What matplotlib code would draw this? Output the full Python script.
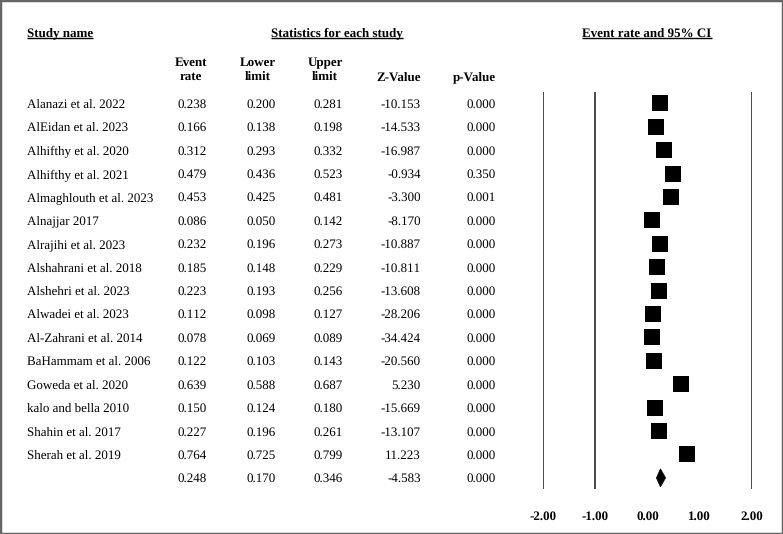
import matplotlib
matplotlib.use("Agg")
import matplotlib.pyplot as plt
from matplotlib.patches import Rectangle, Polygon

plt.rcParams["text.hinting"] = "no_hinting"
plt.rcParams["text.hinting_factor"] = 1

studies = ["Alanazi et al. 2022", "AlEidan et al. 2023", "Alhifthy et al. 2020",
           "Alhifthy et al. 2021", "Almaghlouth et al. 2023", "Alnajjar 2017",
           "Alrajihi et al. 2023", "Alshahrani et al. 2018", "Alshehri et al. 2023",
           "Alwadei et al. 2023", "Al-Zahrani et al. 2014", "BaHammam et al. 2006",
           "Goweda et al. 2020", "kalo and bella 2010", "Shahin et al. 2017",
           "Sherah et al. 2019"]
event_rate = [0.238, 0.166, 0.312, 0.479, 0.453, 0.086, 0.232, 0.185, 0.223,
              0.112, 0.078, 0.122, 0.639, 0.150, 0.227, 0.764]
lower = [0.200, 0.138, 0.293, 0.436, 0.425, 0.050, 0.196, 0.148, 0.193,
         0.098, 0.069, 0.103, 0.588, 0.124, 0.196, 0.725]
upper = [0.281, 0.198, 0.332, 0.523, 0.481, 0.142, 0.273, 0.229, 0.256,
         0.127, 0.089, 0.143, 0.687, 0.180, 0.261, 0.799]
z_value = [-10.153, -14.533, -16.987, -0.934, -3.300, -8.170, -10.887, -10.811,
           -13.608, -28.206, -34.424, -20.560, 5.230, -15.669, -13.107, 11.223]
p_value = [0.000, 0.000, 0.000, 0.350, 0.001, 0.000, 0.000, 0.000, 0.000,
           0.000, 0.000, 0.000, 0.000, 0.000, 0.000, 0.000]
summary_rate = 0.248
summary_lower = 0.170
summary_upper = 0.346
summary_z = -4.583
summary_p = 0.000
x_ticks = [-2, -1, 0, 1, 2]
x_tick_labels = ["-2.00", "-1.00", "0.00", "1.00", "2.00"]
vlines = [-2, -1, 2]

W, H = 783, 534
fig = plt.figure(figsize=(W / 100, H / 100), dpi=100)
FONT = "Liberation Serif"
FS = 9.3
BASE_OFF = 4.3  # baseline offset from row centre (pixels)

# text layer in pixel coordinates
tax = fig.add_axes([0, 0, 1, 1])
tax.set_xlim(0, W)
tax.set_ylim(H, 0)
tax.axis("off")

row0, dy = 103.3, 23.41
def row_y(i):
    return row0 + dy * i

hdr_base = 36.5
headers = [("Study name", 27, "left"), ("Statistics for each study", 337, "center"),
           ("Event rate and 95% CI", 647, "center")]
hdr_texts = []
for txt, x, ha in headers:
    t = tax.text(x, hdr_base, txt, ha=ha, va="baseline", fontsize=FS,
                 fontweight="bold", family=FONT)
    hdr_texts.append(t)

col_hdrs = [(["Event", "rate"], 191, "center"), (["Lower", "limit"], 258, "center"),
            (["Upper", "limit"], 325, "center"), (["Z-Value"], 421, "right"),
            (["p-Value"], 496, "right")]
for lines, x, ha in col_hdrs:
    bases = [66.3, 80.3] if len(lines) == 2 else [80.3]
    for ln, b in zip(lines, bases):
        tax.text(x, b, ln, ha=ha, va="baseline", fontsize=FS, fontweight="bold",
                 family=FONT)

col_right = [207, 276, 343, 421, 496]
for i, name in enumerate(studies):
    y = row_y(i) + BASE_OFF
    tax.text(27, y, name, ha="left", va="baseline", fontsize=FS, family=FONT)
    vals = [f"{event_rate[i]:.3f}", f"{lower[i]:.3f}", f"{upper[i]:.3f}",
            f"{z_value[i]:.3f}", f"{p_value[i]:.3f}"]
    for v, x in zip(vals, col_right):
        tax.text(x, y, v, ha="right", va="baseline", fontsize=FS, family=FONT)

ys = row_y(len(studies))
svals = [f"{summary_rate:.3f}", f"{summary_lower:.3f}", f"{summary_upper:.3f}",
         f"{summary_z:.3f}", f"{summary_p:.3f}"]
for v, x in zip(svals, col_right):
    tax.text(x, ys + BASE_OFF, v, ha="right", va="baseline", fontsize=FS, family=FONT)

# underlines for headers
fig.canvas.draw()
r = fig.canvas.get_renderer()
inv = tax.transData.inverted()
for t in hdr_texts:
    bb = t.get_window_extent(renderer=r)
    (x0, _), (x1, _) = inv.transform([[bb.x0, bb.y0], [bb.x1, bb.y1]])
    tax.plot([x0, x1], [hdr_base + 1.8, hdr_base + 1.8], color="black", lw=1.0,
             solid_capstyle="butt")

# forest axes
px_l, px_r = 543, 752
px_top, px_bot = 92, 489
ax = fig.add_axes([px_l / W, 1 - px_bot / H, (px_r - px_l) / W, (px_bot - px_top) / H])
ax.set_xlim(-2, 2)
n = len(studies)
ax.set_ylim(px_bot, px_top)  # row coordinates in pixel-like units
ax.patch.set_alpha(0)
for s in ax.spines.values():
    s.set_visible(False)
for xv in vlines:
    ax.axvline(xv, color="#4a4a4a", lw=1.4)
ys_list = [row_y(i) for i in range(n)]
ax.hlines(ys_list, lower, upper, color="black", lw=1)
ax.plot(event_rate, ys_list, "s", color="black", markersize=11.3, markeredgewidth=0)
h = 9.0
dia = Polygon([[summary_lower, ys], [summary_rate, ys - h],
               [summary_upper, ys], [summary_rate, ys + h]],
              closed=True, facecolor="black", edgecolor="black", lw=0.5)
ax.add_patch(dia)
ax.set_yticks([])
ax.set_xticks(x_ticks)
ax.set_xticklabels(x_tick_labels, fontsize=FS, fontweight="bold", family=FONT)
ax.tick_params(axis="x", length=0, pad=16)

# figure border
fig.add_artist(Rectangle((0, 0), 1, 1, transform=fig.transFigure, fill=False,
                         edgecolor="#666666", lw=2.5))

fig.savefig("out.png", dpi=100)
